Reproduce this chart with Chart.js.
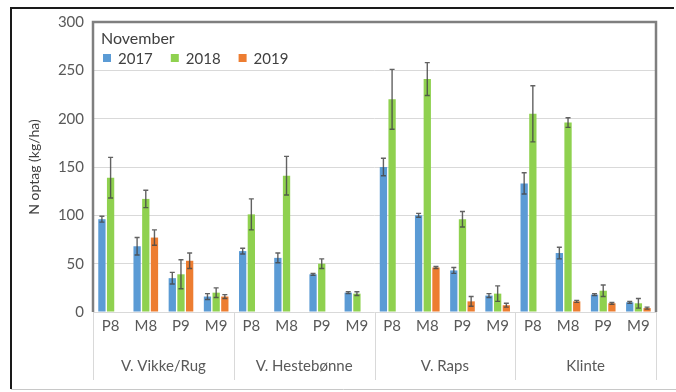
<!DOCTYPE html>
<html>
<head>
<meta charset="utf-8">
<script src="https://cdn.jsdelivr.net/npm/chart.js@4/dist/chart.umd.min.js"></script>
<style>
  html, body { margin: 0; padding: 0; background: #ffffff; }
  #wrap { width: 676px; height: 392px; position: relative; }
</style>
</head>
<body>
<div id="wrap"><canvas id="c" width="676" height="392"></canvas></div>
<script>
// N uptake (kg/ha) in November, per cover crop and treatment
const groups = ['V. Vikke/Rug', 'V. Hestebønne', 'V. Raps', 'Klinte'];
const treatments = ['P8', 'M8', 'P9', 'M9'];
const years = ['2017', '2018', '2019'];
const yTicks = [0, 50, 100, 150, 200, 250, 300];
const legendTitle = 'November';

const n2017 = [96, 68, 35, 16,   63, 56, 39, 20,   150, 100, 43, 17,   133, 61, 18, 10];
const n2018 = [139, 117, 39, 20, 101, 141, 50, 19, 220, 241, 96, 19,   205, 196, 22, 9];
const n2019 = [null, 77, 53, 16, null, null, null, null, null, 46, 11, 7, null, 11, 9, 4];

// standard error for each bar
const err2017 = [3, 9, 6, 3,   3, 5, 1, 1,   9, 2, 3, 2,   11, 6, 1, 1];
const err2018 = [21, 9, 15, 5, 16, 20, 5, 2, 31, 17, 8, 8,  29, 5, 6, 5];
const err2019 = [0, 8, 8, 2,   0, 0, 0, 0,   0, 1, 5, 2,   0, 1, 1, 1];

const colors = ['#5b9bd5', '#8fd14f', '#ed7d31'];
const FONT = 'Lato, "Open Sans", "Liberation Sans", sans-serif';
const TEXT = '#595959';

const categoryLabels = [];
groups.forEach(() => treatments.forEach(t => categoryLabels.push(t)));

// whisker lines with caps, placed through the value scale
const errorBars = {
  id: 'errorBars',
  afterDatasetsDraw(chart) {
    const { ctx } = chart;
    const y = chart.scales.y;
    ctx.save();
    ctx.strokeStyle = 'rgba(70,70,70,0.85)';
    ctx.lineWidth = 1.4;
    chart.data.datasets.forEach((ds, di) => {
      const meta = chart.getDatasetMeta(di);
      meta.data.forEach((bar, i) => {
        const v = ds.data[i];
        const e = ds.errors[i];
        if (v == null || !e) return;
        const yTop = y.getPixelForValue(v + e);
        const yBot = y.getPixelForValue(Math.max(0, v - e));
        const cap = 2.5;
        ctx.beginPath();
        ctx.moveTo(bar.x, yTop); ctx.lineTo(bar.x, yBot);
        ctx.moveTo(bar.x - cap, yTop); ctx.lineTo(bar.x + cap, yTop);
        ctx.moveTo(bar.x - cap, yBot); ctx.lineTo(bar.x + cap, yBot);
        ctx.stroke();
      });
    });
    ctx.restore();
  }
};

// legend in the top-left corner of the plot: title line, then one row of items
const innerLegend = {
  id: 'innerLegend',
  afterDraw(chart) {
    const { ctx, chartArea: a } = chart;
    ctx.save();
    ctx.fillStyle = '#404040';
    ctx.textBaseline = 'middle';
    ctx.textAlign = 'left';
    ctx.font = '16px ' + FONT;
    ctx.fillText(legendTitle, a.left + 8, a.top + 17);
    ctx.font = '15px ' + FONT;
    let x = a.left + 10;
    const yc = a.top + 36;
    chart.data.datasets.forEach(ds => {
      ctx.fillStyle = ds.backgroundColor;
      ctx.fillRect(x, yc - 4, 8, 8);
      x += 8 + 7;
      ctx.fillStyle = '#404040';
      ctx.fillText(ds.label, x, yc + 1);
      x += ctx.measureText(ds.label).width + 18;
    });
    ctx.restore();
  }
};

// outer frame, plot frame and the group separators below the axis
const frames = {
  id: 'frames',
  beforeDraw(chart) {
    const { ctx } = chart;
    ctx.save();
    ctx.fillStyle = '#ffffff';
    ctx.fillRect(0, 0, chart.width, chart.height);
    ctx.lineWidth = 2;
    ctx.strokeStyle = '#1a1a1a';
    ctx.beginPath();
    ctx.moveTo(11, 389); ctx.lineTo(11, 8); ctx.lineTo(674, 8);
    ctx.stroke();
    ctx.lineWidth = 1;
    ctx.strokeStyle = '#c8c8c8';
    ctx.beginPath();
    ctx.moveTo(11, 389.5); ctx.lineTo(676, 389.5);
    ctx.stroke();
    ctx.restore();
  },
  afterDraw(chart) {
    const { ctx, chartArea: a } = chart;
    const x = chart.scales.x;
    const bottom = chart.scales.x2.bottom - 2;
    ctx.save();
    ctx.lineWidth = 1;
    ctx.strokeStyle = '#d9d9d9';
    for (let k = 0; k <= groups.length; k++) {
      const px = Math.round(x.getPixelForValue(k * treatments.length - 0.5)) + 0.5;
      ctx.beginPath();
      ctx.moveTo(px, a.bottom); ctx.lineTo(px, bottom);
      ctx.stroke();
    }
    ctx.lineWidth = 2.5;
    ctx.strokeStyle = '#7f7f7f';
    ctx.beginPath();
    ctx.moveTo(a.left, a.bottom); ctx.lineTo(a.left, a.top);
    ctx.lineTo(a.right, a.top); ctx.lineTo(a.right, a.bottom);
    ctx.stroke();
    ctx.restore();
  }
};

new Chart(document.getElementById('c'), {
  type: 'bar',
  data: {
    labels: categoryLabels,
    datasets: [
      { label: years[0], data: n2017, errors: err2017, backgroundColor: colors[0] },
      { label: years[1], data: n2018, errors: err2018, backgroundColor: colors[1] },
      { label: years[2], data: n2019, errors: err2019, backgroundColor: colors[2] }
    ]
  },
  options: {
    responsive: false,
    animation: false,
    devicePixelRatio: 1,
    categoryPercentage: 0.74,
    barPercentage: 0.84,
    layout: { padding: { left: 20, right: 20, top: 22, bottom: 10 } },
    plugins: {
      tooltip: { enabled: false },
      legend: { display: false }
    },
    scales: {
      x: {
        grid: { display: false, drawTicks: false },
        border: { display: false },
        ticks: { color: TEXT, font: { family: FONT, size: 15 }, padding: 5, autoSkip: false, maxRotation: 0 },
        afterFit(s) { s.height = 34; }
      },
      x2: {
        type: 'category',
        position: 'bottom',
        labels: groups,
        offset: true,
        grid: { display: false, drawTicks: false },
        border: { display: false },
        ticks: { color: TEXT, font: { family: FONT, size: 15 }, padding: 11, autoSkip: false, maxRotation: 0 },
        afterFit(s) { s.height = 36; }
      },
      y: {
        min: yTicks[0],
        max: yTicks[yTicks.length - 1],
        afterBuildTicks(s) { s.ticks = yTicks.map(v => ({ value: v })); },
        grid: { color: '#d9d9d9', lineWidth: 1, drawTicks: false },
        border: { display: false },
        ticks: { color: TEXT, font: { family: FONT, size: 15 }, padding: 9 },
        title: {
          display: true,
          text: 'N optag (kg/ha)',
          color: '#404040',
          font: { family: FONT, size: 14 },
          padding: { top: 6, bottom: 0 }
        },
        afterFit(s) { s.width = 73; }
      }
    }
  },
  plugins: [errorBars, innerLegend, frames]
});
</script>
</body>
</html>
